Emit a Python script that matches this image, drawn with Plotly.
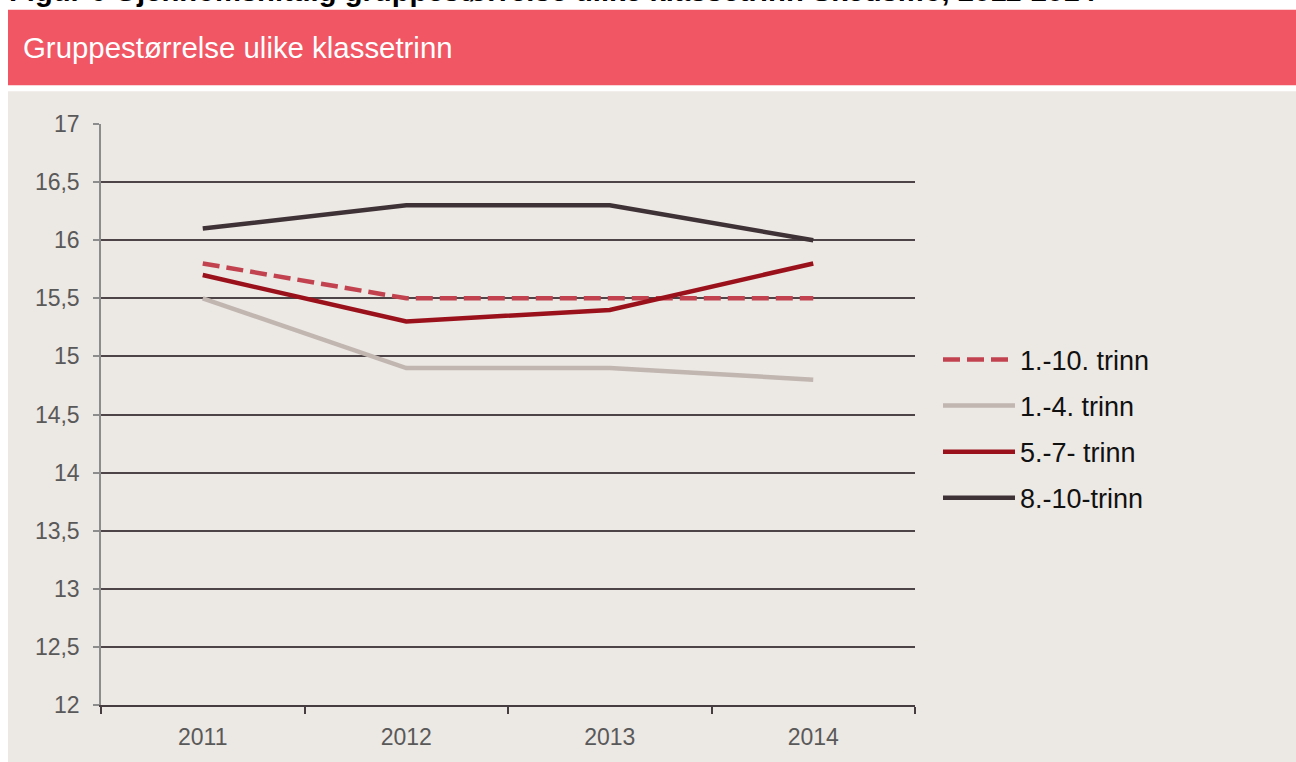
import plotly.graph_objects as go

years = ["2011", "2012", "2013", "2014"]
series_names = ["1.-10. trinn", "1.-4. trinn", "5.-7- trinn", "8.-10-trinn"]
v_1_10 = [15.8, 15.5, 15.5, 15.5]
v_1_4 = [15.5, 14.9, 14.9, 14.8]
v_5_7 = [15.7, 15.3, 15.4, 15.8]
v_8_10 = [16.1, 16.3, 16.3, 16.0]
y_ticks = [12, 12.5, 13, 13.5, 14, 14.5, 15, 15.5, 16, 16.5, 17]

series_values = [v_1_10, v_1_4, v_5_7, v_8_10]
colors = ["#c2434f", "#c1b6b0", "#9b111b", "#3f3236"]
dashes = ["17px,7px", "solid", "solid", "solid"]

W, H = 1296, 762
L, R, T, B = 101, 915, 124, 709
pw, ph = R - L, B - T


def px(x):
    return (x - L) / pw


def py(y):
    return (B - y) / ph


FONT = "Liberation Sans, Arial, sans-serif"

fig = go.Figure()
for name, vals, c, d in zip(series_names, series_values, colors, dashes):
    fig.add_trace(go.Scatter(
        x=years, y=vals, name=name, mode="lines", legendgroup=name,
        line=dict(color=c, width=4.5, dash=d),
    ))

shapes = [
    dict(type="rect", xref="paper", yref="paper", x0=px(8), x1=px(1300), y0=py(9), y1=py(85),
         fillcolor="#f05664", line=dict(width=0), layer="below"),
    dict(type="rect", xref="paper", yref="paper", x0=px(8), x1=px(1300), y0=py(91), y1=py(770),
         fillcolor="#ece8e4", line=dict(width=0), layer="below"),
]

annotations = [
    dict(text="Gruppestørrelse ulike klassetrinn", xref="paper", yref="paper",
         x=px(21), y=py(47), xanchor="left", yanchor="middle", showarrow=False,
         font=dict(family=FONT, size=29.4, color="white")),
    dict(text="<b>Figur 6 Gjennomsnittlig gruppestørrelse ulike klassetrinn Skedsmo, 2011-2014</b>",
         xref="paper", yref="paper", x=px(7), y=py(8), xanchor="left", yanchor="bottom",
         showarrow=False, font=dict(family=FONT, size=29.2, color="black")),
]

fig.update_layout(
    width=W, height=H,
    margin=dict(l=L, r=W - R, t=T, b=H - B, pad=0),
    paper_bgcolor="white",
    plot_bgcolor="#ece8e4",
    separators=", ",
    font=dict(family=FONT),
    shapes=shapes,
    annotations=annotations,
    showlegend=True,
    legend=dict(
        x=px(938), y=py(431), xanchor="left", yanchor="middle",
        font=dict(family=FONT, size=27, color="#111111"),
        bgcolor="rgba(0,0,0,0)", itemwidth=72, traceorder="grouped", tracegroupgap=8,
    ),
    xaxis=dict(
        type="category", range=[-0.5, 3.5], showgrid=False,
        showline=True, linecolor="#463d40", linewidth=2,
        ticks="outside", tickson="boundaries", ticklen=7, tickcolor="#463d40", tickwidth=2,
        tickfont=dict(family=FONT, size=23, color="#595959"),
        ticklabelstandoff=10,
    ),
    yaxis=dict(
        range=[12, 17], tickvals=y_ticks, showgrid=True, gridcolor="#4d4447", gridwidth=1.5,
        zeroline=False, showline=True, linecolor="#8c8c8c", linewidth=1.5,
        ticks="outside", ticklen=6, tickcolor="#8c8c8c", tickwidth=1.5,
        tickfont=dict(family=FONT, size=23, color="#595959"),
        ticklabelstandoff=9,
    ),
)

fig.write_html(
    "out.html",
    config={"displayModeBar": False},
    post_script="document.body.style.margin='0';document.body.style.overflow='hidden';",
)
